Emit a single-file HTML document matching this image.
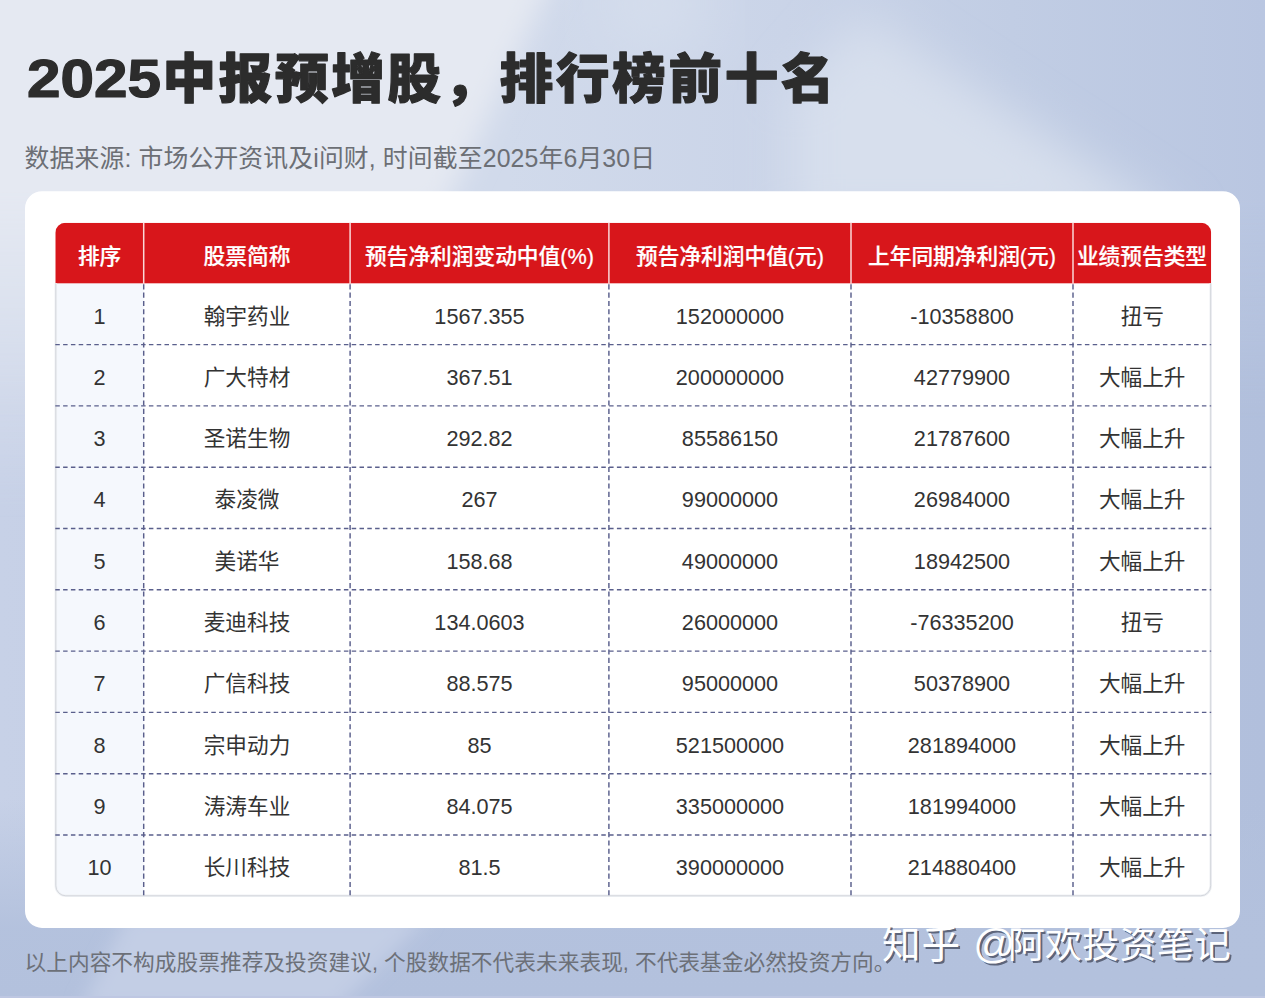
<!DOCTYPE html>
<html lang="zh-CN">
<head>
<meta charset="utf-8">
<title>2025中报预增股，排行榜前十名</title>
<style>
html,body{margin:0;padding:0;}
body{width:1265px;height:998px;overflow:hidden;background:#cfd8ea;font-family:"Liberation Sans",sans-serif;}
#page{position:relative;width:1265px;height:998px;overflow:hidden;}
.bgs{position:absolute;left:0;top:0;}
.tbl{position:absolute;left:55px;top:223px;width:1156px;height:673px;overflow:hidden;}
.t{position:absolute;margin:0;color:transparent;white-space:nowrap;font-weight:normal;overflow:hidden;}
.title{left:27px;top:45px;font-size:55px;line-height:64px;font-weight:bold;}
.sub{left:26px;top:142px;font-size:25px;line-height:30px;}
.foot{left:26px;top:949px;font-size:21.6px;line-height:26px;}
.wm{left:884px;top:924px;font-size:36px;line-height:42px;}
table.data{position:absolute;left:0;top:0;border-collapse:collapse;table-layout:fixed;width:1156px;color:transparent;font-size:21.5px;text-align:center;}
table.data th{height:60.5px;padding:0;font-weight:bold;}
table.data td{height:61.3px;padding:0;overflow:hidden;white-space:nowrap;}
.ink{position:absolute;left:0;top:0;}
.ink text{font-family:"Liberation Sans","Noto Sans CJK SC",sans-serif;}
</style>
</head>
<body>
<div id="page">
<svg class="bgs" width="1265" height="998" viewBox="0 0 1265 998">
<defs>
<linearGradient id="gb" x1="0" x2="1" y1="0" y2="0"><stop offset="0" stop-color="#c7d1e7"/><stop offset="0.45" stop-color="#bdc9e2"/><stop offset="1" stop-color="#b1bfdc"/></linearGradient>
<linearGradient id="gv" x1="0" x2="0" y1="0" y2="1"><stop offset="0.80" stop-color="#b3c1dd" stop-opacity="0"/><stop offset="0.93" stop-color="#b3c1dd" stop-opacity="0.95"/><stop offset="1" stop-color="#b3c1dd"/></linearGradient>
<linearGradient id="gt" x1="0" x2="1" y1="0" y2="0"><stop offset="0.40" stop-color="#d1daeb"/><stop offset="0.62" stop-color="#cad4e8"/><stop offset="0.8" stop-color="#c1cde4"/><stop offset="1" stop-color="#b9c6e1"/></linearGradient>
<linearGradient id="gtm" x1="0" x2="0" y1="0" y2="1"><stop offset="0.2" stop-color="#fff"/><stop offset="0.42" stop-color="#000"/></linearGradient>
<mask id="mt"><rect width="1265" height="998" fill="url(#gtm)"/></mask>
<linearGradient id="gl" gradientUnits="userSpaceOnUse" x1="0" x2="0" y1="190" y2="500"><stop offset="0" stop-color="#e5e9f2"/><stop offset="1" stop-color="#e5e9f2" stop-opacity="0"/></linearGradient>
<filter id="bl" x="-20%" y="-20%" width="140%" height="140%"><feGaussianBlur stdDeviation="14"/></filter>
<filter id="bl2" x="-50%" y="-50%" width="200%" height="200%"><feGaussianBlur stdDeviation="40"/></filter>
<filter id="bl3" x="-20%" y="-50%" width="140%" height="200%"><feGaussianBlur stdDeviation="9"/></filter>
<filter id="bl4" x="-30%" y="-30%" width="160%" height="160%"><feGaussianBlur stdDeviation="24"/></filter>
</defs>
<rect width="1265" height="998" fill="url(#gb)"/>
<rect width="1265" height="998" fill="url(#gv)"/>
<rect width="1265" height="998" fill="url(#gt)" mask="url(#mt)"/>
<path d="M790 230V95L860 15L1190 230Z" fill="#d7dfed" filter="url(#bl4)"/>
<ellipse cx="655" cy="5" rx="45" ry="40" fill="#dbe3f0" filter="url(#bl2)"/>
<path d="M-100 -100H590L435 230L-100 600Z" fill="url(#gl)" filter="url(#bl)"/>
<path d="M128 915H430L335 1010H80Z" fill="#c3cee5" filter="url(#bl3)"/>
<rect x="0" y="996" width="1265" height="2" fill="#bec7e2"/>
</svg>

<h1 class="t title">2025中报预增股，排行榜前十名</h1>
<p class="t sub">数据来源: 市场公开资讯及i问财, 时间截至2025年6月30日</p>
<div class="tbl">
<table class="data"><thead><tr><th style="width:88.4px">排序</th><th style="width:206.4px">股票简称</th><th style="width:258.8px">预告净利润变动中值(%)</th><th style="width:242.1px">预告净利润中值(元)</th><th style="width:222.0px">上年同期净利润(元)</th><th style="width:138.2px">业绩预告类型</th></tr></thead><tbody><tr><td>1</td><td>翰宇药业</td><td>1567.355</td><td>152000000</td><td>-10358800</td><td>扭亏</td></tr><tr><td>2</td><td>广大特材</td><td>367.51</td><td>200000000</td><td>42779900</td><td>大幅上升</td></tr><tr><td>3</td><td>圣诺生物</td><td>292.82</td><td>85586150</td><td>21787600</td><td>大幅上升</td></tr><tr><td>4</td><td>泰凌微</td><td>267</td><td>99000000</td><td>26984000</td><td>大幅上升</td></tr><tr><td>5</td><td>美诺华</td><td>158.68</td><td>49000000</td><td>18942500</td><td>大幅上升</td></tr><tr><td>6</td><td>麦迪科技</td><td>134.0603</td><td>26000000</td><td>-76335200</td><td>扭亏</td></tr><tr><td>7</td><td>广信科技</td><td>88.575</td><td>95000000</td><td>50378900</td><td>大幅上升</td></tr><tr><td>8</td><td>宗申动力</td><td>85</td><td>521500000</td><td>281894000</td><td>大幅上升</td></tr><tr><td>9</td><td>涛涛车业</td><td>84.075</td><td>335000000</td><td>181994000</td><td>大幅上升</td></tr><tr><td>10</td><td>长川科技</td><td>81.5</td><td>390000000</td><td>214880400</td><td>大幅上升</td></tr></tbody></table>
</div>
<p class="t foot">以上内容不构成股票推荐及投资建议, 个股数据不代表未来表现, 不代表基金必然投资方向。</p>
<div class="t wm">知乎 @阿欢投资笔记</div>
<svg class="ink" width="1265" height="998" viewBox="0 0 1265 998">
<path d="M42.00 191.30H1223.00A17 17 0 0 1 1240.00 208.30V910.90A17 17 0 0 1 1223.00 927.90H42.00A17 17 0 0 1 25.00 910.90V208.30A17 17 0 0 1 42.00 191.30Z" fill="#fff"/><clipPath id="tc"><path d="M65.30 222.80H1201.20A10.0 10.0 0 0 1 1211.20 232.80V886.30A10.0 10.0 0 0 1 1201.20 896.30H65.30A10.0 10.0 0 0 1 55.30 886.30V232.80A10.0 10.0 0 0 1 65.30 222.80Z"/></clipPath><g clip-path="url(#tc)"><rect x="55.3" y="283.30" width="88.40" height="613.00" fill="#f5f8fd"/><rect x="55.3" y="222.8" width="1155.90" height="60.5" fill="#d8161b"/></g><path d="M55.80 283.30V885.80A10.0 10.0 0 0 0 65.80 895.80H1200.70A10.0 10.0 0 0 0 1210.70 885.80V283.30" fill="none" stroke="#f0f2f5" stroke-width="2.6"/><path d="M55.80 283.30V885.80A10.0 10.0 0 0 0 65.80 895.80H1200.70A10.0 10.0 0 0 0 1210.70 885.80V283.30" fill="none" stroke="#d3d6dc" stroke-width="1"/><g stroke="#5a5f8c" fill="none"><g stroke-width="1.4" stroke-dasharray="4.5 3.3"><line x1="55.3" x2="1211.2" y1="344.60" y2="344.60"/><line x1="55.3" x2="1211.2" y1="405.90" y2="405.90"/><line x1="55.3" x2="1211.2" y1="467.20" y2="467.20"/><line x1="55.3" x2="1211.2" y1="528.50" y2="528.50"/><line x1="55.3" x2="1211.2" y1="589.80" y2="589.80"/><line x1="55.3" x2="1211.2" y1="651.10" y2="651.10"/><line x1="55.3" x2="1211.2" y1="712.40" y2="712.40"/><line x1="55.3" x2="1211.2" y1="773.70" y2="773.70"/><line x1="55.3" x2="1211.2" y1="835.00" y2="835.00"/></g><g stroke-width="1.45" stroke-dasharray="5.1 3.2"><line x1="143.7" x2="143.7" y1="284.30" y2="896.30"/><line x1="350.1" x2="350.1" y1="284.30" y2="896.30"/><line x1="608.9" x2="608.9" y1="284.30" y2="896.30"/><line x1="851.0" x2="851.0" y1="284.30" y2="896.30"/><line x1="1073.0" x2="1073.0" y1="284.30" y2="896.30"/></g></g>
<g stroke="#fbd9d9" stroke-width="1.5"><line x1="143.7" x2="143.7" y1="222.8" y2="283.3"/><line x1="350.1" x2="350.1" y1="222.8" y2="283.3"/><line x1="608.9" x2="608.9" y1="222.8" y2="283.3"/><line x1="851.0" x2="851.0" y1="222.8" y2="283.3"/><line x1="1073.0" x2="1073.0" y1="222.8" y2="283.3"/></g>

<g fill="#2c2c2c" stroke="#2c2c2c" stroke-width="1.2" stroke-linejoin="round" font-weight="900">
<text x="27" y="96.7" font-size="53" textLength="134" lengthAdjust="spacingAndGlyphs">2025</text>
<text x="162.5" y="98.1" font-size="53.5" textLength="672" lengthAdjust="spacing">中报预增股，排行榜前十名</text>
</g>

<text x="24.6" y="166.5" font-size="24.85" fill="#6c6f75" textLength="630.5" lengthAdjust="spacing">数据来源: 市场公开资讯及i问财, 时间截至2025年6月30日</text>

<g fill="#fff" stroke="#fff" stroke-width="0.24" font-size="21.7" font-weight="500" text-anchor="middle">
<text x="99.6" y="264.4">排序</text>
<text x="246.95" y="264.4">股票简称</text>
<text x="479.5" y="264.4">预告净利润变动中值(%)</text>
<text x="730" y="264.4">预告净利润中值(元)</text>
<text x="962" y="264.4">上年同期净利润(元)</text>
<text x="1142" y="264.4">业绩预告类型</text>
</g>

<g fill="#333" font-size="21.65" text-anchor="middle">
<text x="99.5" y="323.5">1</text><text x="247" y="323.5">翰宇药业</text><text x="479.5" y="323.5">1567.355</text><text x="730" y="323.5">152000000</text><text x="962" y="323.5">-10358800</text><text x="1142.3" y="323.5">扭亏</text>
<text x="99.5" y="384.8">2</text><text x="247" y="384.8">广大特材</text><text x="479.5" y="384.8">367.51</text><text x="730" y="384.8">200000000</text><text x="962" y="384.8">42779900</text><text x="1142.2" y="384.8">大幅上升</text>
<text x="99.5" y="446.1">3</text><text x="247" y="446.1">圣诺生物</text><text x="479.5" y="446.1">292.82</text><text x="730" y="446.1">85586150</text><text x="962" y="446.1">21787600</text><text x="1142.2" y="446.1">大幅上升</text>
<text x="99.5" y="507.4">4</text><text x="247" y="507.4">泰凌微</text><text x="479.5" y="507.4">267</text><text x="730" y="507.4">99000000</text><text x="962" y="507.4">26984000</text><text x="1142.2" y="507.4">大幅上升</text>
<text x="99.5" y="568.7">5</text><text x="247" y="568.7">美诺华</text><text x="479.5" y="568.7">158.68</text><text x="730" y="568.7">49000000</text><text x="962" y="568.7">18942500</text><text x="1142.2" y="568.7">大幅上升</text>
<text x="99.5" y="630">6</text><text x="247" y="630">麦迪科技</text><text x="479.5" y="630">134.0603</text><text x="730" y="630">26000000</text><text x="962" y="630">-76335200</text><text x="1142.3" y="630">扭亏</text>
<text x="99.5" y="691.3">7</text><text x="247" y="691.3">广信科技</text><text x="479.5" y="691.3">88.575</text><text x="730" y="691.3">95000000</text><text x="962" y="691.3">50378900</text><text x="1142.2" y="691.3">大幅上升</text>
<text x="99.5" y="752.6">8</text><text x="247" y="752.6">宗申动力</text><text x="479.5" y="752.6">85</text><text x="730" y="752.6">521500000</text><text x="962" y="752.6">281894000</text><text x="1142.2" y="752.6">大幅上升</text>
<text x="99.5" y="813.9">9</text><text x="247" y="813.9">涛涛车业</text><text x="479.5" y="813.9">84.075</text><text x="730" y="813.9">335000000</text><text x="962" y="813.9">181994000</text><text x="1142.2" y="813.9">大幅上升</text>
<text x="99.5" y="875.2">10</text><text x="247" y="875.2">长川科技</text><text x="479.5" y="875.2">81.5</text><text x="730" y="875.2">390000000</text><text x="962" y="875.2">214880400</text><text x="1142.2" y="875.2">大幅上升</text>
</g>

<text x="24.5" y="969.9" font-size="21.7" fill="#6c7078" textLength="871" lengthAdjust="spacing">以上内容不构成股票推荐及投资建议, 个股数据不代表未来表现, 不代表基金必然投资方向。</text>

<g fill="#4f566a" opacity="0.85">
<text x="884" y="959.5" font-size="38.6" textLength="78.2" lengthAdjust="spacing">知乎</text>
<text x="975.2" y="959.5" font-size="41.3">@</text>
<text x="1009.9" y="959.5" font-size="36.9" textLength="223" lengthAdjust="spacing">阿欢投资笔记</text>
</g>
<g fill="#fff">
<text x="882" y="957.5" font-size="38.6" textLength="78.2" lengthAdjust="spacing">知乎</text>
<text x="973.2" y="957.5" font-size="41.3">@</text>
<text x="1007.9" y="957.5" font-size="36.9" textLength="223" lengthAdjust="spacing">阿欢投资笔记</text>
</g>
</svg>
</div>
</body>
</html>
